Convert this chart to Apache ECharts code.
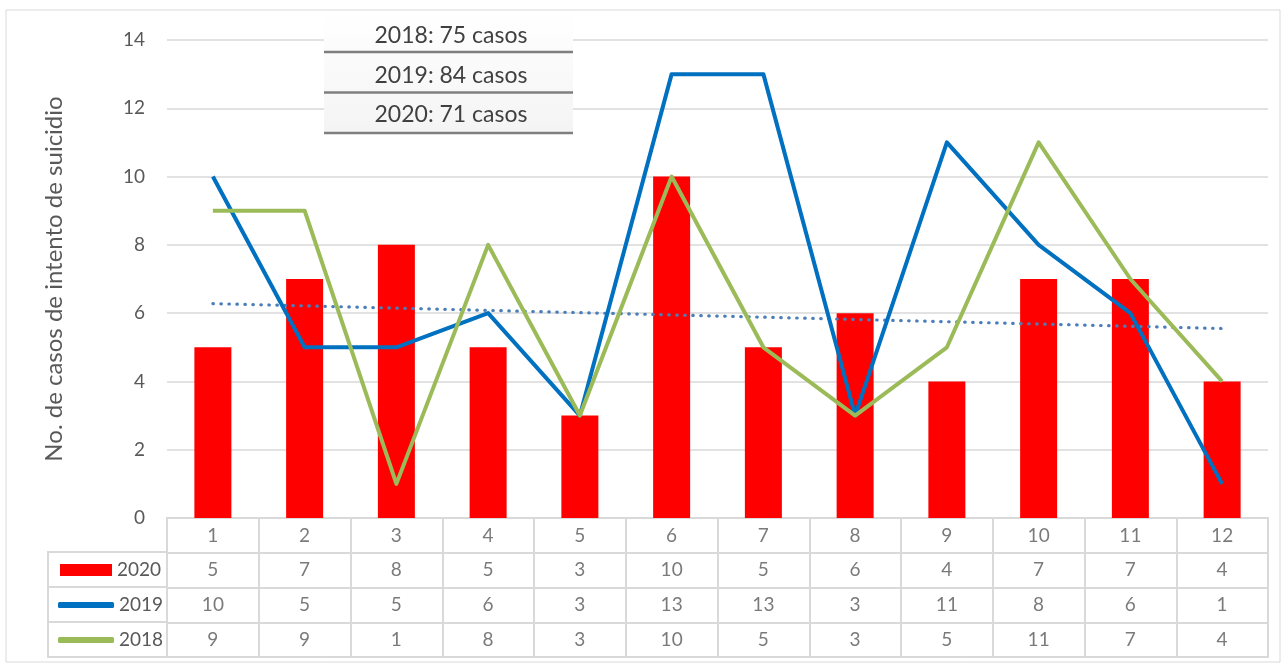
<!DOCTYPE html>
<html>
<head>
<meta charset="utf-8">
<script src="https://cdn.jsdelivr.net/npm/echarts@6/dist/echarts.min.js"></script>
<style>
html,body{margin:0;padding:0;background:#fff;}
#chart{width:1286px;height:666px;}
</style>
</head>
<body>
<div id="chart"></div>
<script>
// ---- data ----
const months = ['1','2','3','4','5','6','7','8','9','10','11','12'];
const cases2020 = [5,7,8,5,3,10,5,6,4,7,7,4];
const cases2019 = [10,5,5,6,3,13,13,3,11,8,6,1];
const cases2018 = [9,9,1,8,3,10,5,3,5,11,7,4];
const trend2020 = [6.28, 5.55]; // dotted trend line, values at month 1 and month 12
const seriesNames = ['2020','2019','2018'];
const yAxisTitle = 'No. de casos de intento de suicidio';

const FONT = 'Lato';
const TXT = '#595959';
const GRIDC = '#d9d9d9';

const sum = a => a.reduce((s,v)=>s+v,0);
const boxLines = [
  '2018: ' + sum(cases2018) + ' casos',
  '2019: ' + sum(cases2019) + ' casos',
  '2020: ' + sum(cases2020) + ' casos'
];

// table cells
const rowsData = [months, cases2020, cases2019, cases2018];
const tableCells = [];
rowsData.forEach((row, r) => row.forEach((v, c) => tableCells.push([c, r, String(v)])));

const chart = echarts.init(document.getElementById('chart'), null, {renderer:'canvas'});

const plotL = 167, plotR = 18;

const option = {
  backgroundColor: '#fff',
  animation: false,
  grid: [
    {left: plotL, right: plotR, top: 40, bottom: 148},
    {left: plotL, right: plotR, top: 518, bottom: 9, show: true, borderColor: GRIDC, borderWidth: 2, backgroundColor: 'transparent'},
    {left: 48, width: plotL - 48, top: 552, bottom: 9, show: true, borderColor: GRIDC, borderWidth: 2, backgroundColor: 'transparent'}
  ],
  xAxis: [
    {gridIndex: 0, type: 'category', data: months, boundaryGap: true,
     axisLine: {show: false}, axisTick: {show: false}, axisLabel: {show: false}, splitLine: {show: false}},
    {gridIndex: 1, type: 'category', data: months, boundaryGap: true,
     axisLine: {show: false}, axisTick: {show: false}, axisLabel: {show: false},
     splitLine: {show: true, interval: 0, lineStyle: {color: GRIDC, width: 2}}},
    {gridIndex: 2, type: 'value', min: 0, max: 1, show: false}
  ],
  yAxis: [
    {gridIndex: 0, type: 'value', min: 0, max: 14, interval: 2,
     name: yAxisTitle, nameLocation: 'middle', nameGap: 101, nameRotate: 90,
     nameTextStyle: {fontFamily: FONT, fontSize: 24, color: TXT},
     axisLine: {show: false}, axisTick: {show: false},
     axisLabel: {fontFamily: FONT, fontSize: 19, color: TXT, margin: 22},
     splitLine: {lineStyle: {color: GRIDC, width: 1.5}}},
    {gridIndex: 1, type: 'category', data: ['cat'].concat(seriesNames), inverse: true, boundaryGap: true,
     axisLine: {show: false}, axisTick: {show: false}, axisLabel: {show: false},
     splitLine: {show: true, interval: 0, lineStyle: {color: GRIDC, width: 2}}},
    {gridIndex: 2, type: 'category', data: seriesNames, inverse: true, boundaryGap: true,
     axisLine: {show: false}, axisTick: {show: false}, axisLabel: {show: false},
     splitLine: {show: true, interval: 0, lineStyle: {color: GRIDC, width: 2}}}
  ],
  legend: [
    {data: [{name: '2020', icon: 'rect'}], left: 60, top: 559, padding: 0, itemWidth: 52, itemHeight: 12, itemGap: 0,
     textStyle: {fontFamily: FONT, fontSize: 19, color: TXT, lineHeight: 22}, selectedMode: false},
    {data: [{name: '2019', icon: 'roundRect'}], left: 58, top: 594, padding: 0, itemWidth: 56, itemHeight: 6,
     textStyle: {fontFamily: FONT, fontSize: 19, color: TXT, lineHeight: 22}, selectedMode: false},
    {data: [{name: '2018', icon: 'roundRect'}], left: 58, top: 629, padding: 0, itemWidth: 56, itemHeight: 6,
     textStyle: {fontFamily: FONT, fontSize: 19, color: TXT, lineHeight: 22}, selectedMode: false}
  ],
  graphic: [
    {type: 'rect', silent: true, z: -10, shape: {x: 6, y: 10, width: 1274, height: 652},
     style: {fill: 'none', stroke: GRIDC, lineWidth: 1}},
    {type: 'rect', silent: true, z: 50, shape: {x: 324, y: 12, width: 249, height: 121},
     style: {fill: new echarts.graphic.LinearGradient(0,0,0,1,[{offset:0,color:'#ffffff'},{offset:1,color:'#f4f4f4'}])}},
    {type: 'line', silent: true, z: 51, shape: {x1: 324, y1: 52, x2: 573, y2: 52}, style: {stroke: '#7f7f7f', lineWidth: 2.5}},
    {type: 'line', silent: true, z: 51, shape: {x1: 324, y1: 92.5, x2: 573, y2: 92.5}, style: {stroke: '#7f7f7f', lineWidth: 2.5}},
    {type: 'line', silent: true, z: 51, shape: {x1: 324, y1: 133, x2: 573, y2: 133}, style: {stroke: '#7f7f7f', lineWidth: 2.5}},
    {type: 'text', silent: true, z: 52, x: 451, y: 36, style: {text: boxLines[0], fontFamily: FONT, fontSize: 23, fill: '#404040', textAlign: 'center', textVerticalAlign: 'middle'}},
    {type: 'text', silent: true, z: 52, x: 451, y: 76, style: {text: boxLines[1], fontFamily: FONT, fontSize: 23, fill: '#404040', textAlign: 'center', textVerticalAlign: 'middle'}},
    {type: 'text', silent: true, z: 52, x: 451, y: 115, style: {text: boxLines[2], fontFamily: FONT, fontSize: 23, fill: '#404040', textAlign: 'center', textVerticalAlign: 'middle'}}
  ],
  series: [
    {name: '2020', type: 'bar', xAxisIndex: 0, yAxisIndex: 0, data: cases2020, barWidth: 37,
     itemStyle: {color: '#ff0000'}, z: 2},
    {name: 'trend', type: 'line', xAxisIndex: 0, yAxisIndex: 0,
     data: [[months[0], trend2020[0]], [months[months.length-1], trend2020[1]]],
     showSymbol: false, symbol: 'none', lineStyle: {color: '#4a7ebb', width: 3.2, type: [0.5, 7.5], cap: 'round'}, z: 3},
    {name: '2019', type: 'line', xAxisIndex: 0, yAxisIndex: 0, data: cases2019, showSymbol: false, symbol: 'none',
     lineStyle: {color: '#0070c0', width: 4, join: 'round'}, itemStyle: {color: '#0070c0'}, z: 4},
    {name: '2018', type: 'line', xAxisIndex: 0, yAxisIndex: 0, data: cases2018, showSymbol: false, symbol: 'none',
     lineStyle: {color: '#9bbb59', width: 4, join: 'round'}, itemStyle: {color: '#9bbb59'}, z: 5},
    {name: 'table', type: 'scatter', xAxisIndex: 1, yAxisIndex: 1, data: tableCells, symbolSize: 1,
     itemStyle: {color: 'rgba(0,0,0,0)'}, silent: true,
     label: {show: true, position: 'inside', formatter: p => p.data[2], fontFamily: FONT, fontSize: 19, color: TXT}}
  ]
};
chart.setOption(option);
</script>
</body>
</html>
